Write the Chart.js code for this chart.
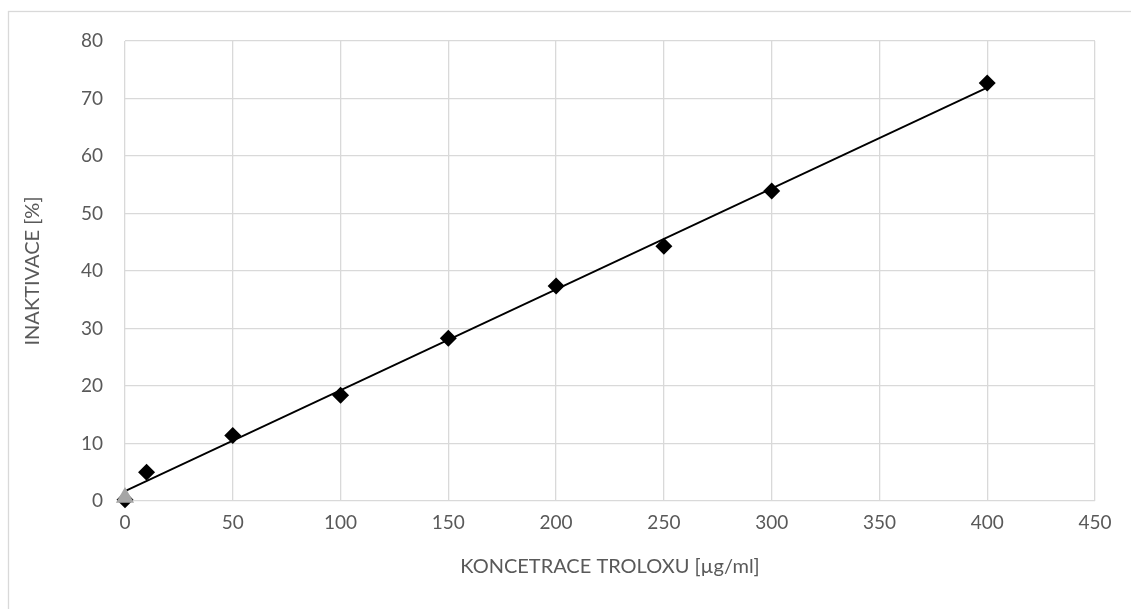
<!DOCTYPE html>
<html>
<head>
<meta charset="utf-8">
<script src="https://cdn.jsdelivr.net/npm/chart.js@4/dist/chart.umd.min.js"></script>
<style>
  html, body { margin: 0; padding: 0; background: #ffffff; }
  #wrap { position: relative; width: 1131px; height: 609px; }
</style>
</head>
<body>
<div id="wrap"><canvas id="chart"></canvas></div>
<script>
// Troloxová kalibrace: koncentrace vs. inaktivace
const concentrations = [0, 10, 50, 100, 150, 200, 250, 300, 400];
const inactivation   = [0.2, 5.0, 11.4, 18.4, 28.3, 37.4, 44.3, 53.9, 72.7];
const blankX = [0];
const blankY = [0.6];
const xTicks = [0, 50, 100, 150, 200, 250, 300, 350, 400, 450];
const yTicks = [0, 10, 20, 30, 40, 50, 60, 70, 80];

// Lineární regrese pro spojnici trendu
function linearFit(xs, ys) {
  const n = xs.length;
  const mx = xs.reduce((a, b) => a + b, 0) / n;
  const my = ys.reduce((a, b) => a + b, 0) / n;
  let sxy = 0, sxx = 0;
  for (let i = 0; i < n; i++) {
    sxy += (xs[i] - mx) * (ys[i] - my);
    sxx += (xs[i] - mx) * (xs[i] - mx);
  }
  const k = sxy / sxx;
  return { k, q: my - k * mx };
}
const fit = linearFit(concentrations, inactivation);
const trendX = [concentrations[0], concentrations[concentrations.length - 1]];
const trendPoints = trendX.map(x => ({ x, y: fit.k * x + fit.q }));

const textColor = '#595959';
const gridColor = '#d9d9d9';
const fontFamily = 'Lato, "Open Sans", "Liberation Sans", sans-serif';

// Rámeček celého grafu
const frame = {
  id: 'frame',
  beforeDraw(chart) {
    const ctx = chart.ctx;
    ctx.save();
    ctx.strokeStyle = gridColor;
    ctx.lineWidth = 1.3;
    ctx.strokeRect(8.5, 11.5, chart.width + 20, chart.height + 20);
    ctx.restore();
  }
};

new Chart(document.getElementById('chart'), {
  type: 'scatter',
  data: {
    datasets: [
      {
        label: 'slepý vzorek',
        data: blankX.map((x, i) => ({ x, y: blankY[i] })),
        pointStyle: 'triangle',
        pointRadius: 10.5,
        pointHoverRadius: 10.5,
        backgroundColor: '#a5a5a5',
        borderColor: '#a5a5a5',
        borderWidth: 0,
        clip: false,
        order: 0
      },
      {
        label: 'trend',
        type: 'line',
        data: trendPoints,
        borderColor: '#000000',
        borderWidth: 1.8,
        pointRadius: 0,
        fill: false,
        clip: false,
        order: 1
      },
      {
        label: 'inaktivace',
        data: concentrations.map((x, i) => ({ x, y: inactivation[i] })),
        pointStyle: 'rectRot',
        pointRadius: 8.5,
        pointHoverRadius: 8.5,
        backgroundColor: '#000000',
        borderColor: '#000000',
        borderWidth: 0,
        clip: false,
        order: 2
      }
    ]
  },
  options: {
    responsive: true,
    maintainAspectRatio: false,
    animation: false,
    events: [],
    layout: { padding: { left: 0, top: 41, right: 36, bottom: 0 } },
    plugins: {
      legend: { display: false },
      tooltip: { enabled: false }
    },
    scales: {
      x: {
        type: 'linear',
        min: xTicks[0],
        max: xTicks[xTicks.length - 1],
        afterBuildTicks: s => { s.ticks = xTicks.map(v => ({ value: v })); },
        afterFit: s => { s.height = 108; },
        grid: { color: gridColor, lineWidth: 1.3, drawTicks: false },
        border: { display: false },
        ticks: { color: textColor, font: { family: fontFamily, size: 19 }, padding: 10, maxRotation: 0 },
        title: {
          display: true,
          text: 'KONCETRACE TROLOXU [µg/ml]',
          color: textColor,
          font: { family: fontFamily, size: 20 },
          padding: { top: 0, bottom: 30 }
        }
      },
      y: {
        type: 'linear',
        min: yTicks[0],
        max: yTicks[yTicks.length - 1],
        afterBuildTicks: s => { s.ticks = yTicks.map(v => ({ value: v })); },
        afterFit: s => { s.width = 125; },
        grid: { color: gridColor, lineWidth: 1.3, drawTicks: false },
        border: { display: false },
        ticks: { color: textColor, font: { family: fontFamily, size: 19 }, padding: 22 },
        title: {
          display: true,
          text: 'INAKTIVACE [%]',
          color: textColor,
          font: { family: fontFamily, size: 20 },
          padding: { top: 21, bottom: 0 }
        }
      }
    }
  },
  plugins: [frame]
});
</script>
</body>
</html>
